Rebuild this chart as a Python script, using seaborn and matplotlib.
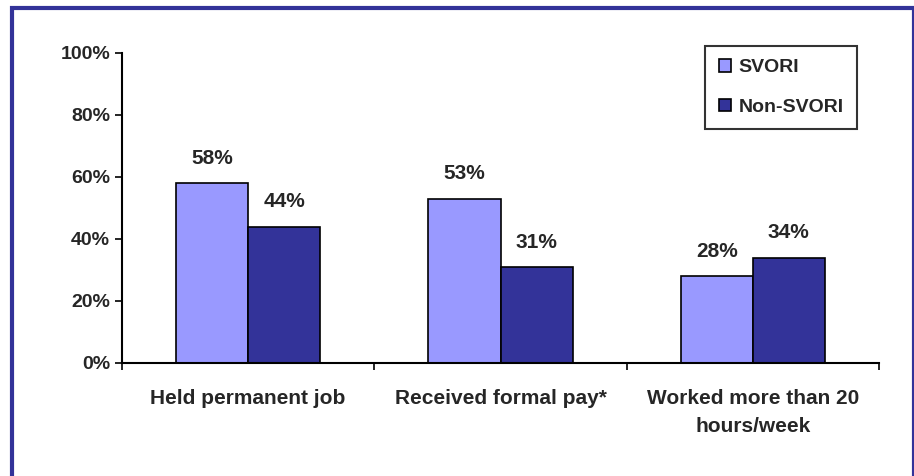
import pandas as pd
import matplotlib.pyplot as plt
import seaborn as sns
from matplotlib.patches import Rectangle
from matplotlib.ticker import FixedLocator

# data
categories = ['Held permanent job', 'Received formal pay*', 'Worked more than 20\nhours/week']
svori = [58, 53, 28]
non_svori = [44, 31, 34]
groups = ['SVORI', 'Non-SVORI']

df = pd.DataFrame({
    'category': categories * 2,
    'group': ['SVORI'] * 3 + ['Non-SVORI'] * 3,
    'value': svori + non_svori,
})

sns.set_style('white')
plt.rcParams['font.family'] = ['Liberation Sans', 'DejaVu Sans']

fig = plt.figure(figsize=(9.14, 4.76), dpi=100)
ax = fig.add_axes([0.1335, 0.2374, 0.8282, 0.6513])

sns.barplot(data=df, x='category', y='value', hue='group', hue_order=groups,
            palette=['#9999FF', '#333399'], width=0.571, gap=0,
            edgecolor='black', linewidth=1.2, saturation=1, ax=ax)

# value labels above bars
for cont in ax.containers:
    ax.bar_label(cont, labels=[f'{v:.0f}%' for v in cont.datavalues],
                 padding=11, fontsize=15, fontweight='bold')

ax.set_ylim(0, 100)
ax.set_xlim(-0.5, 2.5)
ax.set_yticks(range(0, 101, 20))
ax.set_yticklabels([f'{t}%' for t in range(0, 101, 20)], fontsize=14, fontweight='bold')

# ticks at category boundaries, labels at centers
ax.xaxis.set_major_locator(FixedLocator([-0.5, 0.5, 1.5, 2.5]))
ax.set_xticklabels(['', '', '', ''])
ax.xaxis.set_minor_locator(FixedLocator([0, 1, 2]))
ax.set_xticklabels(categories, minor=True, fontsize=15, fontweight='bold', linespacing=1.6)
ax.tick_params(axis='x', which='minor', length=0, pad=19)
ax.tick_params(axis='both', which='major', direction='out', length=5, width=1.2, color='black', bottom=True, left=True)
ax.set_xlabel('')
ax.set_ylabel('')

for s in ['top', 'right']:
    ax.spines[s].set_visible(False)
for s in ['left', 'bottom']:
    ax.spines[s].set_color('black')
    ax.spines[s].set_linewidth(1.5)

leg = ax.legend(loc='upper right', bbox_to_anchor=(0.971, 1.023), frameon=True, fancybox=False,
                prop={'weight': 'bold', 'size': 14}, handlelength=0.6, handleheight=0.6,
                handletextpad=0.4, borderpad=0.7, labelspacing=1.15, borderaxespad=0, title=None)
leg.get_frame().set_edgecolor('black')
leg.get_frame().set_linewidth(1.5)

# navy border round the chart (open at the bottom edge of the image)
fig.patches.append(Rectangle((12 / 914, -0.1), 902 / 914, 1.1 - 8 / 476, transform=fig.transFigure,
                             fill=False, edgecolor='#333399', linewidth=3))

fig.savefig('out.png', dpi=100)
